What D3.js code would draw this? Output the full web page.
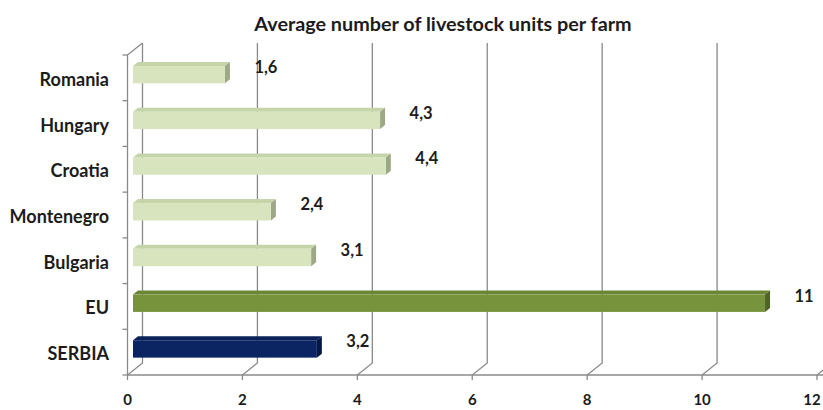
<!DOCTYPE html>
<html>
<head>
<meta charset="utf-8">
<script src="https://cdn.jsdelivr.net/npm/d3@7"></script>
<style>
  body { margin: 0; background: #fff; }
  text { font-family: Lato, "Open Sans", sans-serif; font-weight: bold; fill: #1c1c1c; }
</style>
</head>
<body>
<div class="root"></div>
<script>
const categories = ['Romania', 'Hungary', 'Croatia', 'Montenegro', 'Bulgaria', 'EU', 'SERBIA'];
const values = [1.6, 4.3, 4.4, 2.4, 3.1, 11, 3.2];
const ticks = [0, 2, 4, 6, 8, 10, 12];
const title = 'Average number of livestock units per farm';

const width = 823;
const height = 410;
// 3d wall depth and bar depth, in pixels
const wall = { dx: 15, dy: -12 };
const barD = { dx: 5, dy: -4 };

const svg = d3.select('.root')
  .append('svg')
  .attr('width', width)
  .attr('height', height);

const x = d3.scaleLinear().domain([0, 12]).range([127.5, 817]);
const y = d3.scaleBand().domain(categories).range([55, 375]);
const bw = y.bandwidth();
const floorY = y.range()[1];

const palette = (c) => {
  if (c === 'EU') return { front: '#77933c', top: '#6b8736', side: '#4f6228' };
  if (c === 'SERBIA') return { front: '#0b2563', top: '#0a2259', side: '#061843' };
  return { front: '#d7e4bd', top: '#c6d4aa', side: '#9da886' };
};

svg.append('text')
  .attr('x', 443)
  .attr('y', 31)
  .attr('text-anchor', 'middle')
  .style('font-size', '19.8px')
  .text(title);

// back wall gridlines with floor diagonal and tick
const grid = svg.append('g')
  .attr('fill', 'none')
  .attr('stroke', '#8a8a8a')
  .attr('stroke-width', 1.3);

grid.selectAll('path.grid')
  .data(ticks)
  .enter()
  .append('path')
  .attr('class', 'grid')
  .attr('d', d => {
    const xb = x(d) + wall.dx;
    return `M${xb},${y.range()[0] + wall.dy}V${floorY + wall.dy}L${x(d)},${floorY}V${floorY + 5}`;
  });

// left axis with top diagonal
grid.append('path')
  .attr('d', `M${x(0) + wall.dx},${y.range()[0] + wall.dy}L${x(0)},${y.range()[0]}V${floorY}`);

grid.selectAll('path.ytick')
  .data(categories.concat(['end']))
  .enter()
  .append('path')
  .attr('class', 'ytick')
  .attr('d', (d, i) => {
    const yy = i < categories.length ? y(d) : floorY;
    return `M${x(0) - 5},${yy}H${x(0)}`;
  });

// floor front edge
grid.append('path')
  .attr('d', `M${x(0)},${floorY}H${width}`);

// bars
const bars = svg.selectAll('g.bar')
  .data(categories)
  .enter()
  .append('g')
  .attr('class', 'bar');

const x0 = x(0) + 5.5;
const barTop = (c) => y(c) + bw * 0.24;
const barH = bw * 0.38;

bars.append('path')
  .attr('fill', c => palette(c).top)
  .attr('d', (c, i) => {
    const x1 = x(values[i]) + 5.5;
    const t = barTop(c);
    return `M${x0},${t}L${x0 + barD.dx},${t + barD.dy}H${x1 + barD.dx}L${x1},${t}Z`;
  });

bars.append('path')
  .attr('fill', c => palette(c).side)
  .attr('d', (c, i) => {
    const x1 = x(values[i]) + 5.5;
    const t = barTop(c);
    return `M${x1},${t}L${x1 + barD.dx},${t + barD.dy}V${t + barD.dy + barH}L${x1},${t + barH}Z`;
  });

bars.append('rect')
  .attr('x', x0)
  .attr('y', c => barTop(c))
  .attr('width', (c, i) => x(values[i]) - x(0))
  .attr('height', barH)
  .attr('fill', c => palette(c).front);

// value labels
bars.append('text')
  .attr('x', (c, i) => x(values[i]) + 35)
  .attr('y', c => y(c) + 18)
  .style('font-size', '16.5px')
  .text((c, i) => String(values[i]).replace('.', ','));

// category labels
svg.selectAll('text.cat')
  .data(categories)
  .enter()
  .append('text')
  .attr('class', 'cat')
  .attr('x', 109)
  .attr('y', c => y(c) + bw / 2 + 8)
  .attr('text-anchor', 'end')
  .style('font-size', '18px')
  .text(c => c);

// x tick labels (kept inside the frame)
svg.selectAll('text.xt')
  .data(ticks)
  .enter()
  .append('text')
  .attr('class', 'xt')
  .attr('x', d => Math.min(x(d), width - 11))
  .attr('y', 405)
  .attr('text-anchor', 'middle')
  .style('font-size', '15px')
  .text(d => d);
</script>
</body>
</html>
